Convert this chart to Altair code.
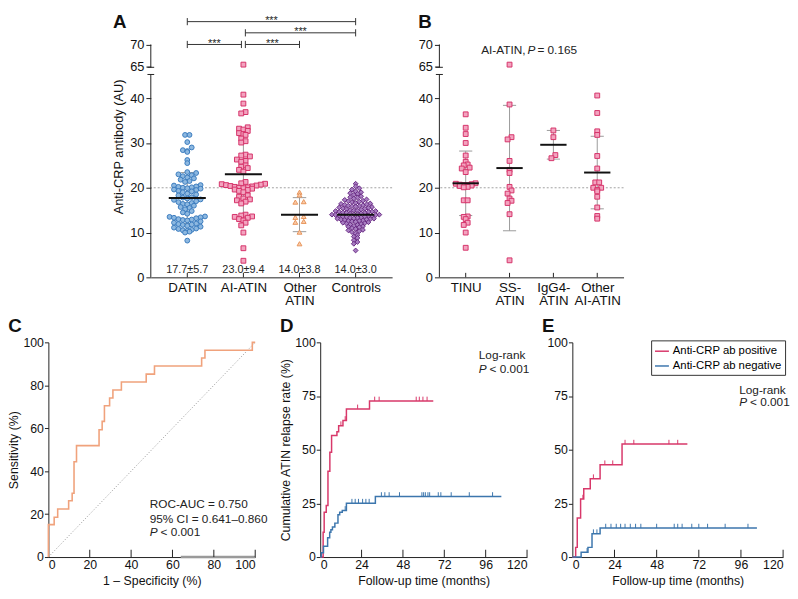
import altair as alt
import pandas as pd

FONT = "Liberation Sans"

DATIN_FILL, DATIN_STROKE = "#8DB8E0", "#3A7BBE"
AI_FILL, AI_STROKE = "#F3A3BF", "#D5336A"
OTH_FILL, OTH_STROKE = "#F9CCAA", "#E8945A"
CTL_FILL, CTL_STROKE = "#A77DC1", "#6A2C84"
POS_COL = "#D8386A"
NEG_COL = "#3C76AD"
ROC_COL = "#F0A27C"

# ---------------- Panel A data ----------------
A_GROUPS = ["DATIN", "AI-ATIN", "Other ATIN", "Controls"]
DATIN = [31.8, 31.8, 30.2, 29.0, 28.4, 28.2, 28.0, 26.2, 25.5, 23.5, 23.3, 23.0, 22.8,
         22.6, 22.3, 22.1, 21.8, 21.5, 21.3, 20.6, 20.5, 20.3, 20.2, 20.1, 20.0, 19.9,
         19.8, 19.6, 19.5, 19.3, 19.2, 19.0, 18.7, 18.5, 18.3, 17.9, 17.8, 17.6, 17.4,
         17.3, 17.0, 16.8, 16.6, 16.4, 16.3, 16.0, 15.7, 15.5, 15.2, 14.8, 14.5, 14.2,
         13.6, 13.5, 13.4, 13.3, 13.2, 13.0, 12.9, 12.8, 12.7, 12.5, 12.2, 12.0, 11.9,
         11.8, 11.7, 11.5, 11.3, 11.1, 10.9, 10.8, 10.6, 10.5, 10.4, 10.2, 10.0, 8.2]
AI_ATIN = [65.5, 40.8, 38.8, 36.9, 36.6, 33.5, 33.2, 33.0, 32.7, 32.2, 32.0, 31.8, 31.0,
           30.4, 30.1, 27.4, 27.2, 27.0, 26.3, 26.0, 25.8, 25.0, 24.7, 24.4, 24.0, 23.6,
           21.3, 21.0, 20.9, 20.8, 20.7, 20.6, 20.5, 20.4, 20.3, 20.2, 20.1, 20.0, 19.9,
           19.8, 19.6, 19.5, 19.3, 19.0, 18.3, 18.0, 17.6, 17.4, 17.2, 16.9, 16.5, 14.0,
           13.8, 13.6, 13.5, 13.3, 13.0, 12.7, 12.2, 11.6, 10.0, 6.5, 3.7]
OTHER_ATIN = [19.0, 18.4, 16.9, 16.8, 13.6, 13.4, 12.5, 12.3, 10.1, 7.5]
CONTROLS = [20.9, 20.3, 19.9, 19.6, 19.2, 19.0, 18.8, 18.6, 18.4, 18.1, 17.9, 17.8, 17.6,
            17.4, 17.3, 17.1, 17.0, 16.9, 16.8, 16.6, 16.5, 16.4, 16.3, 16.2, 16.1, 16.0,
            15.9, 15.9, 15.8, 15.7, 15.6, 15.5, 15.4, 15.3, 15.2, 15.1, 15.0, 14.9, 14.9,
            14.8, 14.8, 14.7, 14.6, 14.6, 14.5, 14.4, 14.4, 14.3, 14.2, 14.1, 14.1, 14.0,
            14.0, 13.9, 13.9, 13.8, 13.8, 13.7, 13.6, 13.6, 13.5, 13.4, 13.3, 13.3, 13.2,
            13.1, 13.1, 13.0, 12.9, 12.9, 12.8, 12.7, 12.6, 12.6, 12.5, 12.4, 12.3, 12.2,
            12.1, 12.0, 11.9, 11.8, 11.7, 11.5, 11.4, 11.3, 11.2, 11.0, 10.8, 10.6, 10.5,
            10.3, 10.1, 9.8, 9.4, 9.1, 8.8, 8.3, 7.9, 7.5, 6.0]
A_MEAN = [17.7, 23.0, 14.0, 14.0]
A_SD = [5.7, 9.4, 3.8, 3.0]
A_STAT_TEXT = ["17.7±5.7", "23.0±9.4", "14.0±3.8", "14.0±3.0"]
BR_X1 = [0, 1.035, 1.035, 0]
BR_X2 = [0.965, 2, 3, 3]
BR_V = [70, 70, 72.6, 75.1]
BR_LABEL = ["***", "***", "***", "***"]

# ---------------- Panel B data ----------------
B_GROUPS = ["TINU", "SS-ATIN", "IgG4-ATIN", "Other AI-ATIN"]
TINU = [36.4, 33.4, 32.0, 30.0, 27.2, 25.8, 25.2, 25.0, 24.5, 24.3, 23.5, 21.0, 20.9, 20.8,
        20.7, 20.6, 20.6, 20.5, 20.4, 20.2, 20.1, 17.2, 17.2, 13.6, 13.5, 13.0, 12.2, 11.7,
        10.0, 6.6]
SS_ATIN = [65.5, 38.6, 31.3, 30.8, 26.0, 24.0, 23.3, 20.2, 19.4, 18.7, 17.6, 17.1, 16.6, 14.1, 3.8]
IGG4_ATIN = [32.8, 31.3, 27.3, 26.6]
OTHER_AI = [40.6, 36.7, 32.6, 31.8, 27.1, 24.3, 21.2, 21.2, 20.0, 20.0, 19.5, 19.2, 18.0,
            15.6, 13.7, 13.1]
B_MEAN = [21.0, 24.4, 29.6, 23.4]
B_SD = [7.2, 14.0, 3.2, 8.1]

# ---------------- Panel C data ----------------
ROC_FPR = [0, 0, 2.8, 4.5, 9.8, 11.5, 12.4, 13.6, 24.5, 26.0, 27.1, 29.6, 31.2, 35.3,
           47.3, 51.3, 74.1, 75.7, 98.6, 100]
ROC_TPR = [0, 15.1, 18.5, 22.4, 26.2, 29.7, 44.4, 51.9, 59.3, 63.2, 70.5, 74.1, 77.8,
           81.5, 85.2, 89.0, 92.7, 96.3, 100, 100]

# ---------------- Panels D / E data ----------------
POS = "Anti-CRP ab positive"
NEG = "Anti-CRP ab negative"
D_POS_T = [0, 1.7, 2.3, 3.5, 4.5, 5.6, 6.6, 9.7, 10.7, 13.2, 15.2, 28.6, 65.6]
D_POS_V = [0, 11.6, 20.9, 24.0, 40.0, 48.8, 56.6, 58.4, 61.2, 63.6, 69.0, 72.7, 72.7]
D_POS_CENS = [12.0, 14.5, 21.7, 31.6, 34.2, 55.7, 57.5, 59.6, 62.0]
D_NEG_T = [0, 0.6, 1.9, 4.3, 5.5, 6.2, 7.1, 8.5, 10.3, 11.3, 12.8, 15.2, 32.0, 105.1]
D_NEG_V = [0, 2.0, 5.0, 9.0, 11.5, 12.7, 14.0, 15.8, 19.7, 20.9, 21.7, 25.1, 28.2, 28.2]
D_NEG_CENS = [14.5, 18.4, 20.3, 22.2, 24.6, 26.5, 28.4, 35.5, 37.5, 40.0, 46.0, 59.0, 60.0,
              61.0, 62.5, 63.5, 68.5, 70.0, 76.0, 86.5, 100.0]
E_POS_T = [0, 1.9, 2.8, 4.7, 6.5, 10.2, 15.8, 28.3, 65.5]
E_POS_V = [0, 4.5, 18.2, 27.0, 31.8, 36.5, 43.0, 52.6, 52.6]
E_POS_CENS = [6.0, 12.0, 18.5, 23.0, 30.0, 35.0, 55.0, 60.0]
E_NEG_T = [0, 5.0, 8.9, 11.2, 15.8, 105.1]
E_NEG_V = [0, 2.2, 4.5, 10.9, 13.5, 13.5]
E_NEG_CENS = [8.4, 12.0, 14.0, 19.0, 22.0, 25.0, 27.5, 30.0, 33.0, 36.0, 39.0, 48.0, 58.0,
              60.0, 62.5, 68.0, 72.0, 77.0, 87.0, 100.0]
KM_TICKS = [0, 24, 48, 72, 96, 120]


def tf(v):
    """broken axis: values above the break are pulled down by 18 units"""
    return v if v <= 45 else v - 18


def swarm(vals, bin_w, step):
    idx = sorted(range(len(vals)), key=lambda i: vals[i])
    bins = {}
    for i in idx:
        bins.setdefault(int(round(vals[i] / bin_w)), []).append(i)
    off = [0.0] * len(vals)
    for members in bins.values():
        n = len(members)
        slots = sorted([(j - (n - 1) / 2) for j in range(n)], key=lambda s: (abs(s), s))
        for s, i in zip(slots, members):
            off[i] = s * step
    return off


LETTER = dict(anchor="start", frame="bounds", fontSize=19, fontWeight="bold")

# =============== Panel A =================
A_W, A_H = 245, 266
A_XDOM = [-0.65, 3.65]
A_YDOM = [0, 58.5]
A_PPU = A_W / (A_XDOM[1] - A_XDOM[0])

y_break_axis = dict(values=[0, 10, 20, 30, 40, 47, 52],
                    labelExpr="datum.value == 47 ? '65' : datum.value == 52 ? '70' : datum.label",
                    domain=False, tickSize=5, grid=False, labelPadding=2)


def AX(f):
    return alt.X(f"{f}:Q", scale=alt.Scale(domain=A_XDOM, nice=False, zero=False),
                 axis=alt.Axis(values=[0, 1, 2, 3], ticks=False, grid=False, title=None,
                               labelPadding=3, labelFontSize=13.5, labelLineHeight=14,
                               labelExpr="datum.value == 0 ? 'DATIN' : datum.value == 1 ? 'AI-ATIN' : datum.value == 2 ? ['Other', 'ATIN'] : 'Controls'"))


def AY(f):
    return alt.Y(f"{f}:Q", scale=alt.Scale(domain=A_YDOM, nice=False, zero=False),
                 axis=alt.Axis(title="Anti-CRP antibody (AU)", titlePadding=4, **y_break_axis))


a_vals = [DATIN, AI_ATIN, OTHER_ATIN, CONTROLS]
a_bins = [1.2, 1.2, 1.2, 0.85]
a_steps = [4.5, 4.4, 8.5, 3.7]
rows = []
for g, vals in enumerate(a_vals):
    offs = swarm(vals, a_bins[g], a_steps[g] / A_PPU)
    for v, o in zip(vals, offs):
        rows.append(dict(x=g + o, y=tf(v), grp=A_GROUPS[g]))
a_pts = pd.DataFrame(rows)

a_stats = pd.DataFrame(dict(x=list(range(4)), mean=A_MEAN, sd=A_SD, label=A_STAT_TEXT))
a_stats["lo"] = a_stats["mean"] - a_stats["sd"]
a_stats["hi"] = a_stats["mean"] + a_stats["sd"]
a_stats["xl"] = a_stats["x"] - 0.33
a_stats["xr"] = a_stats["x"] + 0.33
a_stats["cl"] = a_stats["x"] - 0.12
a_stats["cr"] = a_stats["x"] + 0.12
a_stats["ty"] = 1.6

br = pd.DataFrame(dict(x1=BR_X1, x2=BR_X2, y=[tf(v) for v in BR_V], label=BR_LABEL))
br["xm"] = (br["x1"] + br["x2"]) / 2
br_caps = pd.DataFrame(dict(x=BR_X1 + BR_X2, y=[tf(v) for v in BR_V] * 2))
br_caps["y1"] = br_caps["y"] - 0.8
br_caps["y2"] = br_caps["y"] + 0.8


def break_layers(XF, YF, xmin, half):
    seg = pd.DataFrame(dict(x=[xmin, xmin], y=[0, 46.9], y2=[45.3, 52]))
    tick = pd.DataFrame(dict(x=[xmin - half, xmin - half], x2=[xmin + half, xmin + half],
                             y=[45.3, 46.9]))
    l1 = alt.Chart(seg).mark_rule(color="#222", strokeWidth=1).encode(x=XF("x"), y=YF("y"), y2="y2")
    l2 = alt.Chart(tick).mark_rule(color="#222", strokeWidth=1).encode(x=XF("x"), x2="x2", y=YF("y"))
    return [l1, l2]


def stat_layers(df, XF, YF, cap_color="#9a9a9a"):
    wh = alt.Chart(df).mark_rule(color=cap_color, strokeWidth=1).encode(x=XF("x"), y=YF("lo"), y2="hi")
    c1 = alt.Chart(df).mark_rule(color=cap_color, strokeWidth=1).encode(x=XF("cl"), x2="cr", y=YF("lo"))
    c2 = alt.Chart(df).mark_rule(color=cap_color, strokeWidth=1).encode(x=XF("cl"), x2="cr", y=YF("hi"))
    mn = alt.Chart(df).mark_rule(color="#111", strokeWidth=2).encode(x=XF("xl"), x2="xr", y=YF("mean"))
    return [wh, c1, c2], mn


ref20 = pd.DataFrame(dict(y=[20]))
xt4 = pd.DataFrame(dict(x=[0, 1, 2, 3], y=[0, 0, 0, 0], y2=[1.0, 1.0, 1.0, 1.0]))

a_dash = alt.Chart(ref20).mark_rule(color="#888", strokeDash=[2, 2], strokeWidth=0.8).encode(y=AY("y"))
a_wh, a_mean = stat_layers(a_stats, AX, AY)
a_points = alt.Chart(a_pts).mark_point(filled=True, size=24, strokeWidth=1, opacity=1).encode(
    x=AX("x"), y=AY("y"),
    shape=alt.Shape("grp:N", scale=alt.Scale(domain=A_GROUPS, range=["circle", "square", "triangle-up", "diamond"]), legend=None),
    fill=alt.Fill("grp:N", scale=alt.Scale(domain=A_GROUPS, range=[DATIN_FILL, AI_FILL, OTH_FILL, CTL_FILL]), legend=None),
    stroke=alt.Stroke("grp:N", scale=alt.Scale(domain=A_GROUPS, range=[DATIN_STROKE, AI_STROKE, OTH_STROKE, CTL_STROKE]), legend=None),
)
a_text = alt.Chart(a_stats).mark_text(fontSize=11, color="#222").encode(x=AX("x"), y=AY("ty"), text="label:N")
a_br = alt.Chart(br).mark_rule(color="#333", strokeWidth=1).encode(x=AX("x1"), x2="x2", y=AY("y"))
a_brc = alt.Chart(br_caps).mark_rule(color="#333", strokeWidth=1).encode(x=AX("x"), y=AY("y1"), y2="y2")
a_star = alt.Chart(br).mark_text(fontSize=11, baseline="alphabetic", dy=2.5, color="#222").encode(
    x=AX("xm"), y=AY("y"), text="label:N")
a_xt = alt.Chart(xt4).mark_rule(color="#222").encode(x=AX("x"), y=AY("y"), y2="y2")

panelA = alt.layer(a_dash, *a_wh, a_points, a_mean, a_text, a_br, a_brc, a_star, a_xt,
                   *break_layers(AX, AY, A_XDOM[0], 0.06)).properties(
    width=A_W, height=A_H, title=alt.TitleParams("A", offset=-17, **LETTER))

# =============== Panel B =================
B_W, B_H = 187, 266
B_XDOM = [-0.6, 3.6]
B_PPU = B_W / (B_XDOM[1] - B_XDOM[0])


def BX(f):
    return alt.X(f"{f}:Q", scale=alt.Scale(domain=B_XDOM, nice=False, zero=False),
                 axis=alt.Axis(values=[0, 1, 2, 3], ticks=False, grid=False, title=None,
                               labelPadding=3, labelFontSize=13.5, labelLineHeight=14,
                               labelExpr="datum.value == 0 ? 'TINU' : datum.value == 1 ? ['SS-', 'ATIN'] : datum.value == 2 ? ['IgG4-', 'ATIN'] : ['Other', 'AI-ATIN']"))


def BY(f):
    return alt.Y(f"{f}:Q", scale=alt.Scale(domain=A_YDOM, nice=False, zero=False),
                 axis=alt.Axis(title=None, **y_break_axis))


b_vals = [TINU, SS_ATIN, IGG4_ATIN, OTHER_AI]
rows = []
for g, vals in enumerate(b_vals):
    offs = swarm(vals, 1.0, 4.0 / B_PPU)
    for v, o in zip(vals, offs):
        rows.append(dict(x=g + o, y=tf(v), grp=B_GROUPS[g]))
b_pts = pd.DataFrame(rows)
b_stats = pd.DataFrame(dict(x=list(range(4)), mean=B_MEAN, sd=B_SD))
b_stats["lo"] = b_stats["mean"] - b_stats["sd"]
b_stats["hi"] = b_stats["mean"] + b_stats["sd"]
b_stats["xl"] = b_stats["x"] - 0.3
b_stats["xr"] = b_stats["x"] + 0.3
b_stats["cl"] = b_stats["x"] - 0.15
b_stats["cr"] = b_stats["x"] + 0.15

b_dash = alt.Chart(ref20).mark_rule(color="#888", strokeDash=[2, 2], strokeWidth=0.8).encode(y=BY("y"))
b_wh, b_mean = stat_layers(b_stats, BX, BY)
b_points = alt.Chart(b_pts).mark_point(filled=True, shape="square", size=24, strokeWidth=1,
                                       opacity=1, fill=AI_FILL, stroke=AI_STROKE).encode(x=BX("x"), y=BY("y"))
b_ann = pd.DataFrame(dict(x=[1.5], y=[50.8]))
b_t1 = alt.Chart(b_ann).mark_text(text="AI-ATIN,", align="right", dx=-6, fontSize=12, color="#222").encode(x=BX("x"), y=BY("y"))
b_t2 = alt.Chart(b_ann).mark_text(text="P", align="center", fontStyle="italic", fontSize=12, color="#222").encode(x=BX("x"), y=BY("y"))
b_t3 = alt.Chart(b_ann).mark_text(text="= 0.165", align="left", dx=6, fontSize=12, color="#222").encode(x=BX("x"), y=BY("y"))
b_xt = alt.Chart(xt4).mark_rule(color="#222").encode(x=BX("x"), y=BY("y"), y2="y2")

panelB = alt.layer(b_dash, *b_wh, b_points, b_mean, b_t1, b_t2, b_t3, b_xt,
                   *break_layers(BX, BY, B_XDOM[0], 0.08)).properties(
    width=B_W, height=B_H, title=alt.TitleParams("B", offset=-17, **LETTER))

spacer = alt.Chart(pd.DataFrame(dict(v=[0]))).mark_point(opacity=0).encode(
    x=alt.X("v:Q", axis=None), y=alt.Y("v:Q", axis=None)).properties(width=40, height=10)

# =============== Panel C =================
C_W, C_H = 210, 218
BFS = 12.5


def CX(f):
    return alt.X(f"{f}:Q", scale=alt.Scale(domain=[0, 100], nice=False),
                 axis=alt.Axis(values=[0, 20, 40, 60, 80, 100], ticks=False, grid=False,
                               title="1 – Specificity (%)", labelPadding=2, titlePadding=3,
                               labelFontSize=BFS, titleFontSize=BFS))


def CY(f):
    return alt.Y(f"{f}:Q", scale=alt.Scale(domain=[0, 100], nice=False),
                 axis=alt.Axis(values=[0, 20, 40, 60, 80, 100], tickSize=4, grid=False,
                               title="Sensitivity (%)", labelPadding=1, titlePadding=2,
                               labelFontSize=BFS, titleFontSize=BFS))


roc = pd.DataFrame(dict(i=list(range(len(ROC_FPR))), x=ROC_FPR, y=ROC_TPR))
diag = pd.DataFrame(dict(x=[0], y=[0], x2=[100], y2=[100]))
c_xt = pd.DataFrame(dict(x=[20, 40, 60, 80, 100], y=[0] * 5, y2=[3.4] * 5))
c_grey = pd.DataFrame(dict(x=[64], x2=[100], y=[0]))
c_txt = pd.DataFrame(dict(x=[49, 49], y=[24.6, 17.7], t=["ROC-AUC = 0.750", "95% CI = 0.641–0.860"]))
c_p = pd.DataFrame(dict(x=[49], y=[11.6]))

panelC = alt.layer(
    alt.Chart(diag).mark_rule(color="#777", strokeDash=[1, 2], strokeWidth=0.8).encode(x=CX("x"), y=CY("y"), x2="x2", y2="y2"),
    alt.Chart(c_grey).mark_rule(color="#9a9a9a", strokeWidth=2.5).encode(x=CX("x"), x2="x2", y=CY("y")),
    alt.Chart(roc).mark_line(interpolate="step-after", color=ROC_COL, strokeWidth=1.6).encode(x=CX("x"), y=CY("y"), order="i:Q"),
    alt.Chart(c_xt).mark_rule(color="#222").encode(x=CX("x"), y=CY("y"), y2="y2"),
    alt.Chart(c_txt).mark_text(align="left", fontSize=12, color="#222").encode(x=CX("x"), y=CY("y"), text="t:N"),
    alt.Chart(c_p).mark_text(text="P", align="left", fontStyle="italic", fontSize=12, color="#222").encode(x=CX("x"), y=CY("y")),
    alt.Chart(c_p).mark_text(text="< 0.001", align="left", dx=11, fontSize=12, color="#222").encode(x=CX("x"), y=CY("y")),
).properties(width=C_W, height=C_H, title=alt.TitleParams("C", offset=0, **LETTER))


# =============== Panels D / E =================
def step_val(t, times, vals):
    out = vals[0]
    for tt, vv in zip(times, vals):
        if tt <= t:
            out = vv
    return out


def km_frames(pos_t, pos_v, pos_c, neg_t, neg_v, neg_c):
    lines = []
    for grp, ts, vs in [(POS, pos_t, pos_v), (NEG, neg_t, neg_v)]:
        for k, (t, v) in enumerate(zip(ts, vs)):
            lines.append(dict(i=k, t=t, v=v, grp=grp))
    cens = []
    for grp, cs, ts, vs in [(POS, pos_c, pos_t, pos_v), (NEG, neg_c, neg_t, neg_v)]:
        for c in cs:
            val = step_val(c, ts, vs)
            cens.append(dict(t=c, v=val, v2=val + 2.0, grp=grp))
    return pd.DataFrame(lines), pd.DataFrame(cens)


KM_COLOR_SCALE = alt.Scale(domain=[POS, NEG], range=[POS_COL, NEG_COL])


def km_panel(lines, cens, ytitle, letter, legend, ann_x, ann_y1, ann_y2, width, ldx):
    def KX(f):
        return alt.X(f"{f}:Q", scale=alt.Scale(domain=[0, 120], nice=False),
                     axis=alt.Axis(values=KM_TICKS, ticks=False, grid=False,
                                   title="Follow-up time (months)", labelPadding=2, titlePadding=3,
                                   labelFontSize=BFS, titleFontSize=BFS))

    def KY(f):
        return alt.Y(f"{f}:Q", scale=alt.Scale(domain=[0, 100], nice=False),
                     axis=alt.Axis(values=[0, 25, 50, 75, 100], tickSize=4, grid=False,
                                   title=ytitle, labelPadding=1, titlePadding=2,
                                   labelFontSize=BFS, titleFontSize=BFS))

    def KC():
        return alt.Color("grp:N", scale=KM_COLOR_SCALE, legend=legend)

    xt = pd.DataFrame(dict(x=KM_TICKS[1:], y=[0] * 5, y2=[3.4] * 5))
    ann = pd.DataFrame(dict(x=[ann_x], y=[ann_y1]))
    annp = pd.DataFrame(dict(x=[ann_x], y=[ann_y2]))
    return alt.layer(
        alt.Chart(lines).mark_line(interpolate="step-after", strokeWidth=1.5).encode(
            x=KX("t"), y=KY("v"), color=KC(), order="i:Q"),
        alt.Chart(cens).mark_rule(strokeWidth=1).encode(x=KX("t"), y=KY("v"), y2="v2", color=KC()),
        alt.Chart(xt).mark_rule(color="#222").encode(x=KX("x"), y=KY("y"), y2="y2"),
        alt.Chart(ann).mark_text(text="Log-rank", align="left", fontSize=12, color="#222").encode(x=KX("x"), y=KY("y")),
        alt.Chart(annp).mark_text(text="P", align="left", fontStyle="italic", fontSize=12, color="#222").encode(x=KX("x"), y=KY("y")),
        alt.Chart(annp).mark_text(text="< 0.001", align="left", dx=11, fontSize=12, color="#222").encode(x=KX("x"), y=KY("y")),
    ).properties(width=width, height=C_H,
                 title=alt.TitleParams(letter, offset=0, dx=ldx, **LETTER))


d_lines, d_cens = km_frames(D_POS_T, D_POS_V, D_POS_CENS, D_NEG_T, D_NEG_V, D_NEG_CENS)
e_lines, e_cens = km_frames(E_POS_T, E_POS_V, E_POS_CENS, E_NEG_T, E_NEG_V, E_NEG_CENS)

panelD = km_panel(d_lines, d_cens, "Cumulative ATIN relapse rate (%)", "D", None, 92.0, 94, 87.4, 210, 0)
e_legend = alt.Legend(title=None, orient="top-right", strokeColor="#333", padding=3,
                      symbolType="stroke", symbolStrokeWidth=1.5, symbolSize=200,
                      labelFontSize=11.5, rowPadding=1, offset=-2, fillColor="white",
                      labelLimit=200, labelOffset=3)
panelE = km_panel(e_lines, e_cens, None, "E", e_legend, 95.0, 78, 72, 214, -5)

top = alt.hconcat(spacer, panelA, panelB, spacing=25).resolve_scale(
    fill="independent", stroke="independent", shape="independent", color="independent")
bottom = alt.hconcat(panelC, panelD, panelE, spacing=12).resolve_scale(
    color="independent").resolve_legend(color="independent")

chart = alt.vconcat(top, bottom, spacing=10).resolve_scale(
    color="independent", fill="independent", stroke="independent", shape="independent"
).resolve_legend(color="independent").properties(padding=0).configure_view(
    stroke=None).configure_axis(
    labelFont=FONT, titleFont=FONT, labelFontSize=13, titleFontSize=13, labelColor="#111",
    titleColor="#111", domainColor="#222", tickColor="#222", titleFontWeight="normal"
).configure_text(font=FONT).configure_title(font=FONT, color="#111").configure_legend(
    labelFont=FONT)

chart.save("out.html", embed_options={"renderer": "svg", "actions": False})
